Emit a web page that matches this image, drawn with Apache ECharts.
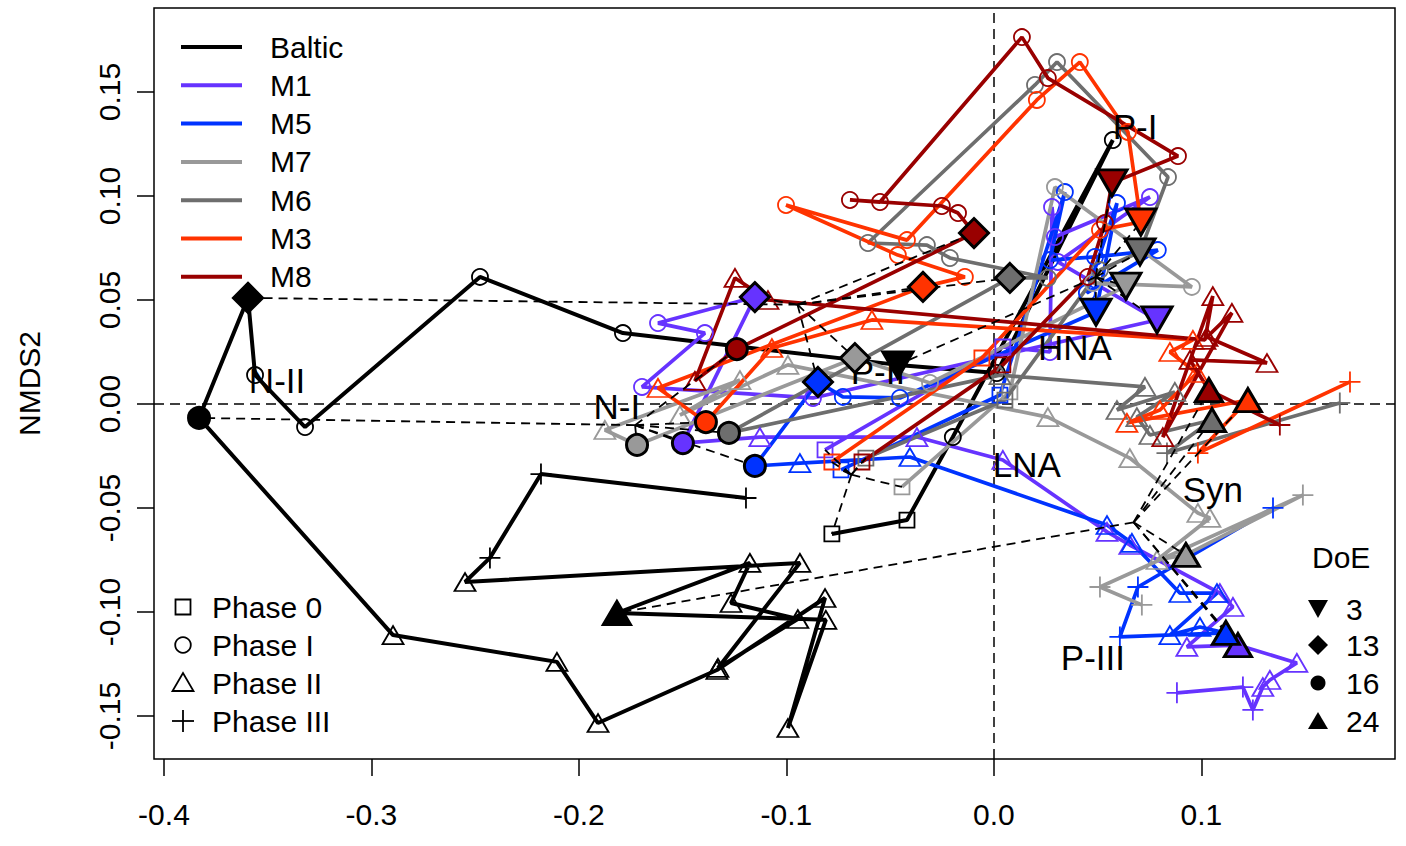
<!DOCTYPE html>
<html><head><meta charset="utf-8">
<script src="https://cdn.jsdelivr.net/npm/echarts@6/dist/echarts.min.js"></script>
<style>html,body{margin:0;padding:0;background:#fff}#c{width:1406px;height:846px}</style>
</head><body><div id="c"></div>
<script>
// ---------------- DATA ----------------
const groupNames  = ['Baltic','M1','M5','M7','M6','M3','M8'];
const groupColors = ['#000000','#6633FF','#0033FF','#999999','#6E6E6E','#FF3300','#990000'];
const phaseNames  = ['Phase 0','Phase I','Phase II','Phase III'];
const doeDays     = ['3','13','16','24'];
const xTicks = [-0.4,-0.3,-0.2,-0.1,0.0,0.1];
const yTicks = [-0.15,-0.10,-0.05,0.00,0.05,0.10,0.15];

// phase code: 0 = Phase 0, 1 = Phase I, 2 = Phase II, 3 = Phase III
// doe: index of the sample at DoE 3, 13, 16, 24
const balticX = [-0.0781,-0.0419,-0.0198,0.0573,0.0014,-0.0463,-0.1788,-0.2477,-0.3320,-0.3561,-0.3595,-0.3831,-0.2896,-0.2106,-0.1908,-0.1335,-0.0814,-0.0993,-0.0810,-0.1817,-0.1176,-0.1267,-0.0945,-0.1330,-0.0935,-0.2549,-0.2429,-0.2183,-0.1195];
const balticY = [-0.0625,-0.0558,-0.0159,0.1269,0.0149,0.0188,0.0341,0.0611,-0.0111,0.0139,0.0510,-0.0067,-0.1111,-0.1240,-0.1534,-0.1279,-0.0933,-0.1558,-0.1038,-0.1005,-0.0764,-0.0957,-0.1034,-0.1269,-0.0764,-0.0856,-0.0740,-0.0337,-0.0452];
const balticPhase = [0,0,1,1,1,1,1,1,1,1,1,1,2,2,2,2,2,2,2,2,2,2,2,2,2,2,3,3,3];
const balticDoe = [5,10,11,19];

const m1X = [-0.0814,0.0043,0.0270,0.0280,0.0294,0.0752,0.0308,0.0786,-0.0872,-0.1696,-0.1393,-0.1619,-0.1152,-0.1499,-0.1128,-0.0371,0.0043,0.0545,0.0655,0.1089,0.1152,0.0930,0.1176,0.1460,0.1330,0.1296,0.1248,0.1200,0.0882];
const m1Y = [-0.0221,0.0274,0.0250,0.0947,0.0803,0.0995,0.0683,0.0404,0.0029,0.0082,0.0341,0.0389,0.0514,-0.0188,-0.0159,-0.0159,-0.0269,-0.0615,-0.0678,-0.0909,-0.0976,-0.1168,-0.1159,-0.1245,-0.1327,-0.1361,-0.1471,-0.1361,-0.1389];
const m1Phase = [0,0,1,1,1,1,1,1,1,1,1,1,1,1,2,2,2,2,2,2,2,2,2,2,2,2,3,3,3];
const m1Doe = [7,12,13,22];

const m5X = [-0.0737,0.0029,0.0342,0.0270,0.0487,0.0790,0.0448,0.0593,0.0492,-0.0453,-0.0728,-0.0848,-0.1152,-0.0935,-0.0405,0.0545,0.0665,0.0896,0.1075,0.0848,0.0993,0.1118,0.0607,0.0694,0.1345];
const m5Y = [-0.0317,0.0043,0.1019,0.0692,0.0707,0.0740,0.0534,0.0966,0.0442,0.0029,0.0034,0.0106,-0.0298,-0.0284,-0.0255,-0.0582,-0.0668,-0.0909,-0.0909,-0.1111,-0.1072,-0.1101,-0.1120,-0.0880,-0.0500];
const m5Phase = [0,0,1,1,1,1,1,1,1,1,1,1,1,2,2,2,2,2,2,2,2,2,3,3,3];
const m5Doe = [8,11,12,21];

const m7X = [-0.0443,0.0077,0.0294,0.0954,0.0477,0.0636,-0.0308,-0.0670,-0.1720,-0.1875,-0.1224,-0.1513,-0.0993,0.0260,0.0655,0.0983,0.1041,0.0786,0.0925,0.1489,0.0511,0.0713];
const m7Y = [-0.0399,0.0058,0.1043,0.0563,0.0582,0.0567,0.0101,0.0221,-0.0197,-0.0125,0.0115,-0.0053,0.0188,-0.0063,-0.0260,-0.0524,-0.0548,-0.0750,-0.0726,-0.0438,-0.0880,-0.0966];
const m7Phase = [0,0,1,1,1,1,1,1,1,2,2,2,2,2,2,2,2,2,2,3,3,3];
const m7Doe = [5,7,8,18];

const m6X = [-0.0617,0.0053,0.0511,0.0704,0.0839,0.0304,0.0198,-0.0607,-0.0323,-0.0212,0.0260,0.0077,-0.1277,0.0029,0.0728,0.0593,0.0872,0.0689,0.0752,0.1051,0.0834,0.1667];
const m6Y = [-0.0260,0.0019,0.0644,0.0731,0.1091,0.1644,0.1534,0.0774,0.0764,0.0702,0.0606,0.0606,-0.0139,0.0139,0.0082,-0.0029,0.0058,-0.0063,-0.0149,-0.0077,-0.0236,0.0005];
const m6Phase = [0,0,1,1,1,1,1,1,1,1,1,1,1,2,2,2,2,2,2,2,3,3];
const m6Doe = [3,11,12,19];

const m3X = [-0.0781,-0.0058,0.0511,0.0708,0.0646,0.0414,0.0207,-0.0419,-0.1002,-0.0463,-0.0140,-0.0342,-0.1619,-0.1388,-0.1070,-0.0588,0.0959,0.0848,0.0978,0.0800,0.0641,0.1224,0.0983,0.1716];
const m3Y = [-0.0279,0.0221,0.0837,0.0875,0.1308,0.1644,0.1462,0.0788,0.0957,0.0716,0.0611,0.0563,0.0077,-0.0087,0.0269,0.0404,0.0308,0.0250,0.0149,-0.0029,-0.0091,0.0019,-0.0236,0.0106];
const m3Phase = [0,0,1,1,1,1,1,1,1,1,1,1,2,2,2,2,2,2,2,2,2,2,3,3];
const m3Doe = [3,11,13,21];

const m8X = [-0.0636,0.0043,0.0453,0.0535,0.0569,0.0887,0.0260,0.0135,-0.0549,-0.0694,-0.0251,-0.0173,-0.0096,-0.1239,-0.1441,-0.1248,-0.1089,0.1017,0.1055,0.0814,0.1147,0.1027,0.1316,0.0945,0.1036,0.1378];
const m8Y = [-0.0279,0.0188,0.0611,0.0870,0.1063,0.1192,0.1567,0.1764,0.0971,0.0981,0.0952,0.0918,0.0822,0.0264,0.0111,0.0606,0.0500,0.0308,0.0519,-0.0159,0.0438,0.0322,0.0197,0.0212,0.0067,-0.0101];
const m8Phase = [0,0,1,1,1,1,1,1,1,1,1,1,1,1,2,2,2,2,2,2,2,2,2,2,2,3];
const m8Doe = [4,12,13,24];

const plotLabels  = ['N-II','N-I','P-I','P-II','HNA','LNA','Syn','P-III'];
const plotLabelX  = [-0.3455,-0.1817,0.0680,-0.0559,0.0390,0.0159,0.1055,0.0477];
const plotLabelY  = [0.0111,-0.0014,0.1332,0.0154,0.0274,-0.0293,-0.0413,-0.1221];

// ---------------- BUILD ----------------
const FONT = '"Liberation Sans", Arial, Helvetica, sans-serif';
const xMin = -0.4048, xMax = 0.1933, yMin = -0.1707, yMax = 0.1904;

const groups = [
  [balticX, balticY, balticPhase, balticDoe],
  [m1X, m1Y, m1Phase, m1Doe],
  [m5X, m5Y, m5Phase, m5Doe],
  [m7X, m7Y, m7Phase, m7Doe],
  [m6X, m6Y, m6Phase, m6Doe],
  [m3X, m3Y, m3Phase, m3Doe],
  [m8X, m8Y, m8Phase, m8Doe]
].map((a, i) => ({name: groupNames[i], color: groupColors[i], x: a[0], y: a[1], p: a[2], doe: a[3]}));

const PLUS = 'path://M0,10L20,10M10,0L10,20';
const phaseSymbol = ['rect','circle','triangle',PLUS];
const phaseSize = [15,16,[21,18],21];
const doeSymbol = ['path://M0,0L20,0L10,17.32Z','diamond','circle','triangle'];
const doeSize = [[30,26],[29,29],[21,21],[27,23]];

const series = [];
// zero reference lines
series.push({
  type:'lines', coordinateSystem:'cartesian2d', silent:true, z:1,
  lineStyle:{color:'#000', width:1.5, type:[10,6], opacity:1},
  data:[{coords:[[0,yMin],[0,yMax]]},{coords:[[xMin,0],[xMax,0]]}]
});

groups.forEach((g, gi) => {
  series.push({
    type:'line', name:g.name, silent:true, z:2, showSymbol:false, symbol:'none',
    data: g.x.map((v, i) => [v, g.y[i]]),
    lineStyle:{color:g.color, width: gi === 0 ? 4 : 3.7},
    itemStyle:{color:g.color}
  });
});
groups.forEach((g) => {
  const pts = [];
  g.x.forEach((v, i) => {
    if (g.doe.indexOf(i) >= 0) return;
    pts.push({value:[v, g.y[i]], symbol: phaseSymbol[g.p[i]], symbolSize: phaseSize[g.p[i]]});
  });
  series.push({
    type:'scatter', name:g.name + ' samples', silent:true, z:3, data:pts,
    itemStyle:{color:'rgba(0,0,0,0)', borderColor:g.color, borderWidth:1.8, opacity:1}
  });
});

// text labels
series.push({
  type:'scatter', name:'labels', silent:true, z:4, symbolSize:1,
  itemStyle:{color:'rgba(0,0,0,0)', opacity:1},
  data: plotLabels.map((t, i) => ({name:t, value:[plotLabelX[i], plotLabelY[i]]})),
  label:{show:true, position:'inside', formatter:'{b}', fontSize:35, color:'#000', opacity:1, fontFamily:FONT}
});

// spider lines: day 0 (first sample) and each DoE group to its centroid
const spiderSets = [groups.map(g => 0)].concat([0,1,2,3].map(k => groups.map(g => g.doe[k])));
const spiderData = [];
spiderSets.forEach(idx => {
  const px = groups.map((g, i) => g.x[idx[i]]);
  const py = groups.map((g, i) => g.y[idx[i]]);
  const cx = px.reduce((a, b) => a + b, 0) / px.length;
  const cy = py.reduce((a, b) => a + b, 0) / py.length;
  px.forEach((v, i) => spiderData.push({coords:[[cx, cy],[v, py[i]]]}));
});
series.push({
  type:'lines', coordinateSystem:'cartesian2d', silent:true, z:5,
  lineStyle:{color:'#000', width:1.8, type:[9,6], opacity:1},
  data: spiderData
});

// DoE highlighted samples
doeDays.forEach((d, k) => {
  series.push({
    type:'scatter', name:'DoE ' + d, silent:true, z:6,
    symbol: doeSymbol[k], symbolSize: doeSize[k],
    itemStyle:{borderColor:'#000', borderWidth:3, opacity:1},
    data: groups.map(g => ({value:[g.x[g.doe[k]], g.y[g.doe[k]]], itemStyle:{color:g.color}}))
  });
});

// ---------------- LEGENDS (phase & DoE) ----------------
const gfx = [];
const tfont = '30px ' + FONT;
function txt(t, x, y, align) {
  return {type:'text', silent:true, z:100, style:{text:t, x:x, y:y, font:tfont, fill:'#000',
    textAlign:align || 'left', textVerticalAlign:'middle', align:align || 'left', verticalAlign:'middle'}};
}
const stroke = {stroke:'#000', fill:'none', lineWidth:1.8};
const phY = [607, 645, 683, 721], phX = 183;
gfx.push({type:'rect', silent:true, z:100, shape:{x:phX-7.5, y:phY[0]-7.5, width:15, height:15}, style:stroke});
gfx.push({type:'circle', silent:true, z:100, shape:{cx:phX, cy:phY[1], r:7.8}, style:stroke});
gfx.push({type:'polygon', silent:true, z:100, shape:{points:[[phX-10.5,phY[2]+8],[phX+10.5,phY[2]+8],[phX,phY[2]-10]]}, style:stroke});
gfx.push({type:'line', silent:true, z:100, shape:{x1:phX-11, y1:phY[3], x2:phX+11, y2:phY[3]}, style:{stroke:'#000', lineWidth:1.8}});
gfx.push({type:'line', silent:true, z:100, shape:{x1:phX, y1:phY[3]-11, x2:phX, y2:phY[3]+11}, style:{stroke:'#000', lineWidth:1.8}});
phaseNames.forEach((n, i) => gfx.push(txt(n, 212, phY[i])));

const dX = 1318, dY = [609, 645, 683, 721];
gfx.push(txt('DoE', 1312, 557));
gfx.push({type:'polygon', silent:true, z:100, shape:{points:[[dX-10,dY[0]-9],[dX+10,dY[0]-9],[dX,dY[0]+9]]}, style:{fill:'#000'}});
gfx.push({type:'polygon', silent:true, z:100, shape:{points:[[dX,dY[1]-10],[dX+10,dY[1]],[dX,dY[1]+10],[dX-10,dY[1]]]}, style:{fill:'#000'}});
gfx.push({type:'circle', silent:true, z:100, shape:{cx:dX, cy:dY[2], r:7.5}, style:{fill:'#000'}});
gfx.push({type:'polygon', silent:true, z:100, shape:{points:[[dX-10,dY[3]+8],[dX+10,dY[3]+8],[dX,dY[3]-9]]}, style:{fill:'#000'}});
doeDays.forEach((d, i) => gfx.push(txt(d, 1346, dY[i])));

// ---------------- OPTION ----------------
const chart = echarts.init(document.getElementById('c'), null, {renderer:'svg'});
chart.setOption({
  animation:false,
  backgroundColor:'#fff',
  textStyle:{fontFamily:FONT},
  grid:{left:154, top:8, right:11, bottom:87, show:true, borderColor:'#000', borderWidth:1.5, backgroundColor:'rgba(0,0,0,0)'},
  legend:{
    data: groupNames, orient:'vertical', left:181, top:32, padding:0,
    itemWidth:61, itemHeight:4, itemGap:8.3, icon:'rect', selectedMode:false,
    textStyle:{fontSize:30, fontFamily:FONT, color:'#000', lineHeight:30, padding:[0,0,0,23]}
  },
  xAxis:{
    type:'value', min:xMin, max:xMax, position:'bottom',
    axisLine:{show:false, onZero:false}, splitLine:{show:false},
    axisTick:{show:true, inside:false, length:17, lineStyle:{color:'#000', width:1.5}, customValues:xTicks},
    axisLabel:{customValues:xTicks, formatter:v => v.toFixed(1), fontSize:30, color:'#000', margin:40, fontFamily:FONT}
  },
  yAxis:{
    type:'value', min:yMin, max:yMax, position:'left',
    axisLine:{show:false, onZero:false}, splitLine:{show:false},
    axisTick:{show:true, inside:false, length:17, lineStyle:{color:'#000', width:1.5}, customValues:yTicks},
    axisLabel:{customValues:yTicks, rotate:90, formatter:v => v.toFixed(2), fontSize:30, color:'#000', margin:30, fontFamily:FONT},
    name:'NMDS2', nameLocation:'middle', nameRotate:90, nameGap:110,
    nameTextStyle:{fontSize:30, color:'#000', fontFamily:FONT}
  },
  graphic: gfx,
  series: series
});
</script>
</body></html>
